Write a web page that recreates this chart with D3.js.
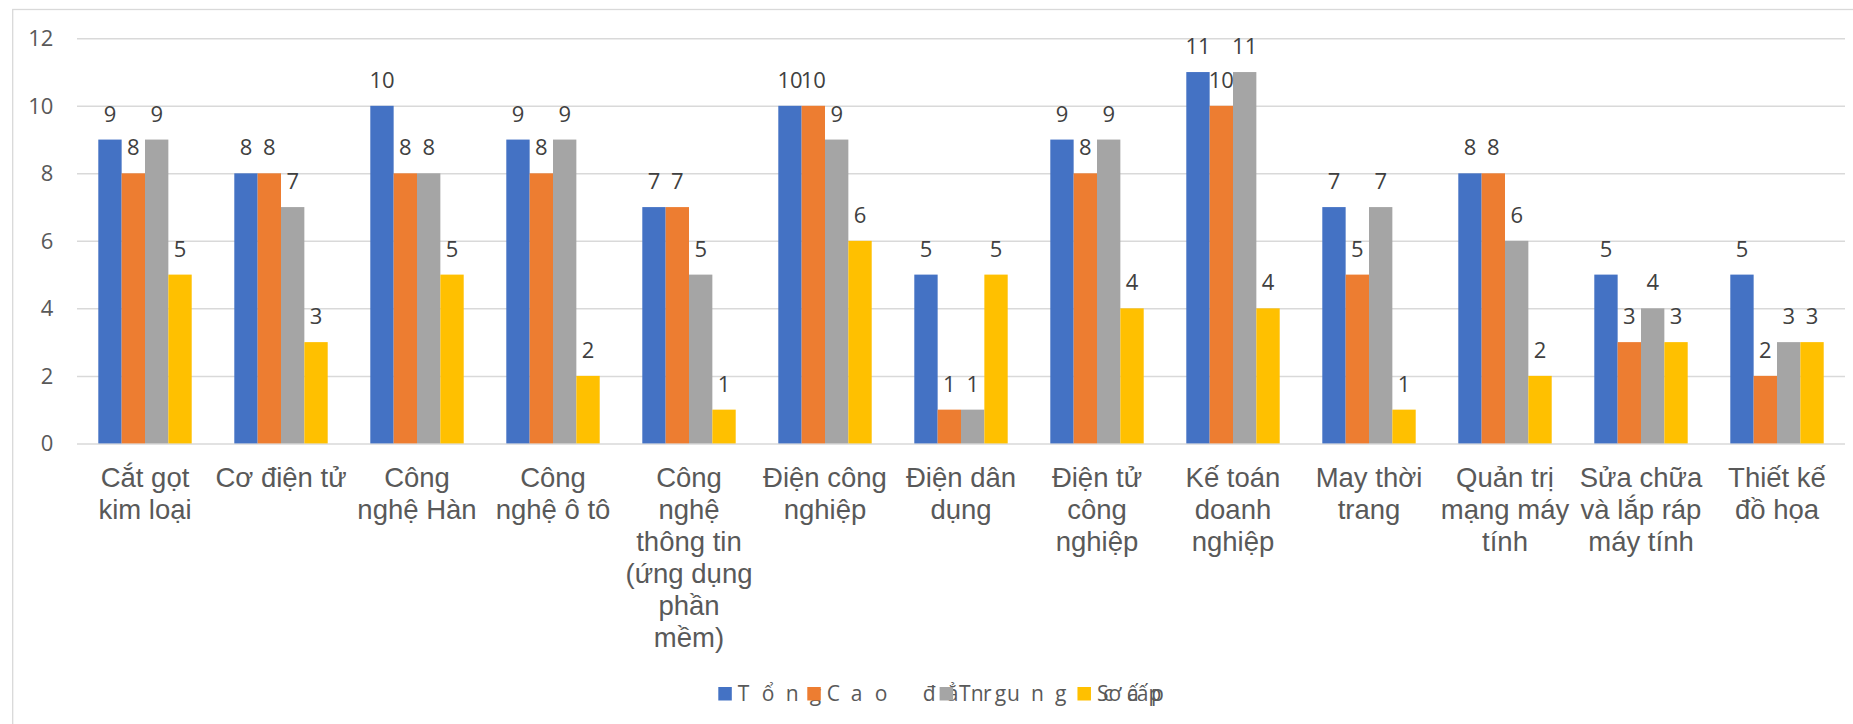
<!DOCTYPE html>
<html lang="vi">
<head>
<meta charset="utf-8">
<script src="https://cdn.jsdelivr.net/npm/d3@7"></script>
<style>
  html, body { margin: 0; padding: 0; background: #fff; }
  svg { display: block; }
</style>
</head>
<body>
<svg id="chart" width="1853" height="724"></svg>
<script>
// Ngành đào tạo (dấu \n đánh dấu chỗ xuống dòng của nhãn trục)
const categories = [
  "Cắt gọt\nkim loại",
  "Cơ điện tử",
  "Công\nnghệ Hàn",
  "Công\nnghệ ô tô",
  "Công\nnghệ\nthông tin\n(ứng dụng\nphần\nmềm)",
  "Điện công\nnghiệp",
  "Điện dân\ndụng",
  "Điện tử\ncông\nnghiệp",
  "Kế toán\ndoanh\nnghiệp",
  "May thời\ntrang",
  "Quản trị\nmạng máy\ntính",
  "Sửa chữa\nvà lắp ráp\nmáy tính",
  "Thiết kế\nđồ họa"
];

const seriesNames = ["Tổng", "Cao đẳng", "Trung cấp", "Sơ cấp"];
const tong     = [9, 8, 10, 9, 7, 10, 5, 9, 11, 7, 8, 5, 5];
const caoDang  = [8, 8, 8, 8, 7, 10, 1, 8, 10, 5, 8, 3, 2];
const trungCap = [9, 7, 8, 9, 5, 9, 1, 9, 11, 7, 6, 4, 3];
const soCap    = [5, 3, 5, 2, 1, 6, 5, 4, 4, 1, 2, 3, 3];
const yTicks   = [0, 2, 4, 6, 8, 10, 12];

const seriesValues = [tong, caoDang, trungCap, soCap];
const colors = ["#4472C4", "#ED7D31", "#A5A5A5", "#FFC000"];

const svg = d3.select("#chart");

// outer chart frame
svg.append("rect")
  .attr("x", 12.7).attr("y", 9.5)
  .attr("width", 1900).attr("height", 800)
  .attr("fill", "none")
  .attr("stroke", "#d9d9d9")
  .attr("stroke-width", 1.3);

const plotLeft = 77, plotRight = 1845;
const gap = 0.3132;

const x = d3.scaleBand()
  .domain(categories)
  .range([plotLeft, plotRight])
  .paddingInner(gap)
  .paddingOuter(gap / 2);

const xs = d3.scaleBand()
  .domain(seriesNames)
  .range([0, x.bandwidth()]);

const y = d3.scaleLinear()
  .domain([0, 12])
  .range([443.4, 38.3]);

// gridlines + value axis labels
const yAxis = svg.append("g")
  .attr("transform", `translate(${plotLeft},0)`)
  .call(d3.axisLeft(y)
    .tickValues(yTicks)
    .tickSize(-(plotRight - plotLeft))
    .tickPadding(23.7));
yAxis.select(".domain").remove();
yAxis.selectAll(".tick line")
  .attr("stroke", "#d9d9d9")
  .attr("stroke-width", 1.5);
yAxis.selectAll(".tick text")
  .attr("fill", "#595959")
  .attr("font-family", "'Open Sans', sans-serif")
  .attr("font-size", 22)
  .attr("dy", "0.34em");

// bars
const rows = [];
categories.forEach((c, i) => {
  seriesNames.forEach((s, j) => {
    rows.push({ cat: c, series: s, value: seriesValues[j][i], color: colors[j] });
  });
});

svg.append("g").selectAll("rect")
  .data(rows)
  .join("rect")
  .attr("x", d => x(d.cat) + xs(d.series))
  .attr("y", d => y(d.value))
  .attr("width", xs.bandwidth())
  .attr("height", d => y(0) - y(d.value))
  .attr("fill", d => d.color);

// value labels above bars
svg.append("g").selectAll("text")
  .data(rows)
  .join("text")
  .attr("x", d => x(d.cat) + xs(d.series) + xs.bandwidth() / 2)
  .attr("y", d => y(d.value) - 18)
  .attr("text-anchor", "middle")
  .attr("fill", "#404040")
  .attr("font-family", "'Open Sans', sans-serif")
  .attr("font-size", 22)
  .text(d => d.value);

// category labels
const catLabels = svg.append("g").selectAll("text")
  .data(categories)
  .join("text")
  .attr("x", d => x(d) + x.bandwidth() / 2)
  .attr("y", 487.3)
  .attr("text-anchor", "middle")
  .attr("fill", "#595959")
  .attr("font-family", "'Liberation Sans', Arial, sans-serif")
  .attr("font-size", 27.5);
catLabels.each(function (d) {
  const t = d3.select(this);
  d.split("\n").forEach((line, k) => {
    t.append("tspan")
      .attr("x", x(d) + x.bandwidth() / 2)
      .attr("dy", k === 0 ? 0 : 32)
      .text(line);
  });
});

// legend
const legendFont = "'Open Sans', sans-serif";
const legendSize = 21;
const legendY = 700.7;
const pitch = 24;
const legend = svg.append("g");

// lay out entries from natural text widths
const measure = svg.append("text")
  .attr("font-family", legendFont)
  .attr("font-size", legendSize)
  .attr("visibility", "hidden");
let cursor = 718.3;
seriesNames.forEach((name, j) => {
  legend.append("rect")
    .attr("x", cursor).attr("y", legendY - 13.7)
    .attr("width", 13.5).attr("height", 13.5)
    .attr("fill", colors[j]);
  const tx = cursor + 19.5;
  const label = name.normalize("NFC");
  const el = legend.append("text")
    .attr("y", legendY)
    .attr("fill", "#595959")
    .attr("font-family", legendFont)
    .attr("font-size", legendSize)
    .text(label);
  if (j < seriesNames.length - 1) {
    // glyphs spread at a fixed pitch
    el.attr("x", Array.from(label).map((_, k) => tx + k * pitch).join(" "));
  } else {
    el.attr("x", tx);
  }
  measure.text(label);
  cursor = tx + measure.node().getComputedTextLength() + 21;
});
measure.remove();
</script>
</body>
</html>
